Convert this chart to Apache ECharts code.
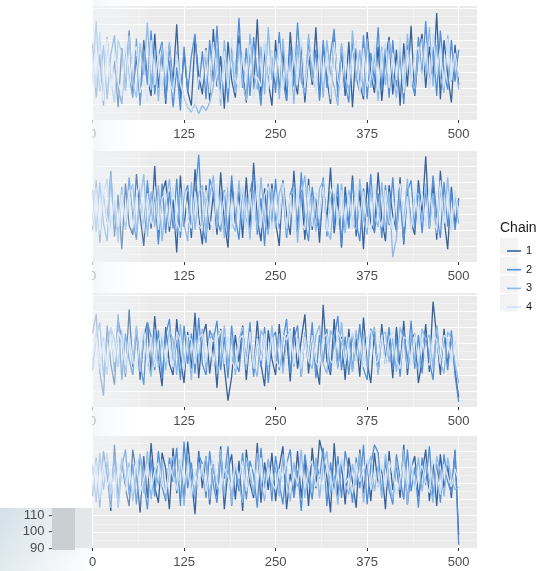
<!DOCTYPE html>
<html>
<head>
<meta charset="utf-8">
<style>
  html, body { margin: 0; padding: 0; background: #ffffff; }
  #chart { width: 555px; height: 571px; }
</style>
<script src="https://cdn.jsdelivr.net/npm/echarts@6.0.0/dist/echarts.min.js"></script>
</head>
<body>
<div id="chart"></div>
<script>
// MCMC trace plots: four parameters, four chains, 500 iterations (every 5th draw kept)
const STEP = 5;
const chainNames = ['1', '2', '3', '4'];
const chainColors = ['#36619a', '#4f8fdc', '#8ab9ea', '#d2e3f5'];
const xTicks = [0, 125, 250, 375, 500];
const bottomYTicks = [90, 100, 110];

// panel 1
const p1c1 = [48,14,41,9,52,22,37,8,45,19, 56,17,40,12,50,26,15,54,20,44, 10,47,23,60,13,42,18,9,51,28,
  16,45,12,57,21,40,7,49,25,14, 53,30,11,46,19,63,15,42,24,9, 50,18,44,12,55,27,16,48,11,41,
  22,58,14,47,26,10,53,19,43,15, 49,8,45,23,13,55,29,17,46,12, 38,52,16,44,9,48,21,59,15,42,
  54,20,46,25,67,13,50,28,11,47, 22];
const p1c2 = [24,62,18,47,13,41,53,20,10,45, 27,14,51,9,43,22,56,16,40,49, 12,37,8,33,6,46,17,40,54,19,
  43,13,50,24,59,17,42,11,47,26, 64,20,45,15,52,28,9,48,22,43, 17,55,25,12,46,21,61,27,15,51,
  24,44,12,50,20,41,57,14,46,22, 11,49,27,17,53,13,42,24,58,19, 45,14,50,21,41,10,47,25,16,52,
  27,62,22,46,15,56,30,19,50,24, 44];
const p1c3 = [40,20,55,16,46,25,11,50,42,18, 53,23,14,48,28,61,19,44,12,47, 21,49,17,43,25,14,8,5,10,4,
  9,6,11,21,45,9,50,23,42,17, 48,24,12,54,29,19,46,16,58,25, 43,13,51,21,40,10,47,24,17,54,
  26,19,45,14,50,29,21,9,48,27, 18,56,24,44,15,51,20,42,12,46, 22,50,28,14,45,20,54,26,19,43,
  51,30,58,21,47,27,17,53,24,41, 19];
const p1c4 = [22,46,26,12,51,19,43,24,15,49, 20,41,46,17,25,11,50,22,42,18, 46,25,17,41,22,15,9,6,8,27,
  23,44,17,49,25,13,43,20,51,26, 19,42,24,47,14,27,21,50,18,44, 25,48,19,41,15,45,22,52,20,40,
  44,17,47,24,42,13,49,25,19,43, 22,41,50,16,45,21,27,47,18,42, 48,20,42,25,52,17,44,22,41,46,
  24,49,19,54,28,45,21,51,25,42, 27];

// panel 2
const p2c1 = [20,51,12,45,25,57,16,42,8,49, 23,17,55,29,10,47,21,60,14,43, 51,19,39,6,54,22,44,15,58,28,
  11,48,20,43,17,56,25,9,50,24, 44,15,53,21,62,27,13,46,19,49, 25,10,51,29,17,57,22,45,14,52,
  20,43,12,48,26,59,18,41,9,47, 22,54,16,45,8,50,24,19,56,27, 13,48,29,20,53,11,46,25,17,51,
  30,66,21,49,14,57,27,8,47,23, 40];
const p2c2 = [45,19,50,24,13,54,28,18,47,22, 53,27,14,46,20,51,23,43,11,49, 18,44,21,52,15,42,48,19,40,67,
  23,12,52,43,26,19,45,16,54,28, 14,47,22,43,55,17,40,10,49,23, 52,21,46,15,42,50,19,56,25,13,
  47,27,20,53,16,44,22,49,11,42, 21,51,25,13,46,28,55,18,43,15, 48,23,53,19,40,12,44,51,21,47,
  18,45,24,54,29,15,50,22,44,20, 39];
const p2c3 = [27,47,17,43,52,21,39,12,45,20, 42,49,19,38,55,16,44,22,48,13, 37,52,28,18,46,24,13,50,20,43,
  48,17,40,54,21,44,15,47,25,19, 51,23,42,14,45,20,53,26,17,46, 21,43,50,18,39,47,12,42,54,22,
  41,19,46,51,21,14,43,23,49,18, 45,24,20,52,27,17,47,28,22,50, 19,44,3,15,47,24,52,20,40,43,
  25,49,21,43,18,46,27,53,20,42, 24];
const p2c4 = [23,43,20,48,27,17,46,22,42,25, 45,21,41,50,18,43,24,47,20,40, 43,22,47,25,19,49,27,21,44,23,
  20,45,26,18,48,23,42,50,21,44, 27,48,19,44,23,51,21,42,47,18, 44,24,49,21,42,17,46,25,20,48,
  22,44,27,47,19,42,50,23,45,26, 42,21,48,27,44,23,19,49,28,22, 45,26,20,43,49,22,41,18,46,24,
  43,22,47,27,20,51,24,44,19,45, 30];

// panel 3
const p3c1 = [46,58,22,7,51,27,14,54,43,19, 61,25,48,17,44,53,22,57,29,13, 50,27,20,55,30,15,47,24,59,18,
  44,52,21,41,12,49,25,4,19,45, 28,51,17,43,22,54,27,13,48,30, 20,52,26,45,16,50,24,42,58,21,
  46,27,14,64,29,20,55,25,44,17, 49,23,43,19,56,28,15,47,22,52, 27,44,18,50,25,54,20,42,46,15,
  29,52,22,66,44,20,49,26,45,23, 6];
const p3c2 = [23,44,53,19,41,49,22,58,17,46, 30,20,50,27,14,53,44,23,48,18, 45,55,24,42,17,51,27,46,21,56,
  27,20,48,42,54,23,44,18,51,28, 22,46,29,53,19,44,25,50,15,43, 47,23,42,55,21,43,51,19,46,27,
  53,18,45,28,49,22,42,57,23,44, 20,46,29,52,24,17,49,43,22,47, 30,50,23,44,19,48,28,54,24,45,
  21,46,29,17,51,27,45,23,48,20, 3];
const p3c3 = [29,47,24,44,20,50,42,25,48,21, 43,27,51,22,46,29,19,49,25,44, 23,48,42,20,52,27,45,17,47,29,
  49,24,43,46,21,29,51,26,44,20, 42,50,23,45,27,19,48,43,25,51, 28,46,21,43,49,25,44,19,47,29,
  24,45,51,27,21,48,42,24,53,28, 44,22,48,29,46,25,42,50,20,45, 47,28,43,22,50,42,24,46,29,23,
  49,42,45,24,51,28,21,47,43,27, 15];
const p3c4 = [31,44,27,41,25,46,28,47,42,26, 45,29,24,43,48,27,44,25,42,46, 28,44,25,47,41,23,45,42,27,43,
  46,28,43,25,42,48,27,44,29,24, 42,45,27,47,24,43,29,46,26,44, 29,25,45,42,48,27,43,24,44,28,
  45,28,25,43,46,29,26,47,42,27, 42,46,28,44,25,43,48,27,29,45, 27,43,47,29,24,44,42,26,46,28,
  44,29,26,46,42,27,45,43,28,42, 25];

// panel 4
const p4c1 = [122,146,115,150,135,113,154,120,144,127, 116,151,136,112,147,121,155,128,118,149,
  139,114,152,124,145,119,156,133,111,150, 127,147,117,142,122,153,114,138,148,120,
  144,113,151,130,121,155,118,143,126,149, 119,140,153,114,136,123,150,121,145,116,
  152,127,157,147,134,112,155,122,142,117, 146,131,115,151,124,143,119,149,128,140,
  114,150,126,142,121,154,117,139,147,122, 136,151,119,144,116,148,127,141,121,150, 98];
const p4c2 = [141,118,149,126,144,121,147,115,140,151, 123,142,117,148,131,114,145,122,150,128,
  119,146,131,152,116,156,127,143,120,148, 142,121,150,129,118,146,133,153,116,140,
  125,149,120,144,135,115,152,127,145,119, 147,130,117,142,151,121,138,113,148,132,
  120,145,133,152,116,143,125,147,121,150, 138,118,146,127,154,117,141,154,149,123,
  144,126,117,148,133,120,151,125,140,115, 146,129,153,121,142,118,148,131,124,151, 92];
const p4c3 = [127,144,120,138,149,123,141,116,146,131, 143,119,137,148,124,150,120,140,129,145,
  121,139,147,125,142,116,148,131,122,143, 134,147,120,141,126,151,122,144,117,142,
  130,118,146,137,123,149,131,119,145,127, 140,122,148,132,119,143,128,151,121,139,
  126,146,121,140,150,124,135,117,145,130, 123,142,129,149,118,139,147,125,141,121,
  148,131,120,144,126,151,117,142,128,146, 125,143,132,118,147,137,122,146,133,126, 128];
const p4c4 = [129,141,124,143,128,137,121,142,135,125, 140,127,145,123,133,142,126,138,143,129,
  124,142,134,126,145,130,139,122,137,128, 142,125,136,145,131,124,140,134,127,143,
  133,144,125,137,142,128,146,123,140,131, 126,139,133,144,124,137,130,142,127,139,
  144,128,136,125,142,134,123,139,146,130, 134,124,143,131,138,145,126,137,128,142,
  127,144,136,123,133,142,129,146,125,136, 141,131,124,145,136,123,142,134,128,139, 131];

const panels = [
  { chains: [p1c1, p1c2, p1c3, p1c4], yMin: 0, yMax: 72 },
  { chains: [p2c1, p2c2, p2c3, p2c4], yMin: 0, yMax: 70 },
  { chains: [p3c1, p3c2, p3c3, p3c4], yMin: 0, yMax: 72 },
  { chains: [p4c1, p4c2, p4c3, p4c4], yMin: 90, yMax: 160 }
];

const FONT = "'Liberation Sans', Arial, sans-serif";
const PANEL_BG = '#ebebeb';
const gridBoxes = [
  { top: 5, height: 115 },
  { top: 150, height: 112 },
  { top: 292, height: 115 },
  { top: 435, height: 113 }
];

const grids = [], xAxes = [], yAxes = [], series = [];
panels.forEach((p, k) => {
  grids.push({
    left: 92.5, width: 384.5, top: gridBoxes[k].top, height: gridBoxes[k].height,
    show: true, backgroundColor: PANEL_BG, borderWidth: 0
  });
  xAxes.push({
    type: 'value', gridIndex: k, min: 0, max: 525, interval: 125,
    axisLine: { show: false },
    axisTick: { show: true, length: 3, customValues: xTicks, lineStyle: { color: '#333333', width: 1 } },
    axisLabel: { show: true, color: '#4d4d4d', fontSize: 13, fontFamily: FONT, margin: 8,
      customValues: xTicks },
    splitLine: { show: true, lineStyle: { color: '#ffffff', width: 1 } },
    minorTick: { show: false, splitNumber: 2 },
    minorSplitLine: { show: true, lineStyle: { color: '#f6f6f6', width: 0.6 } }
  });
  const isBottom = k === panels.length - 1;
  yAxes.push({
    type: 'value', gridIndex: k, min: p.yMin, max: p.yMax, interval: 10,
    axisLine: { show: false },
    axisTick: { show: false },
    axisLabel: isBottom
      ? { show: true, color: '#4d4d4d', fontSize: 13, fontFamily: FONT, margin: 40,
          formatter: v => (bottomYTicks.indexOf(v) >= 0 ? v + ' -' : '') }
      : { show: false },
    splitLine: { show: true, lineStyle: { color: '#ffffff', width: 1 } },
    minorTick: { show: false, splitNumber: 2 },
    minorSplitLine: { show: true, lineStyle: { color: '#f6f6f6', width: 0.6 } }
  });
  p.chains.forEach((vals, c) => {
    series.push({
      type: 'line', name: chainNames[c], xAxisIndex: k, yAxisIndex: k,
      data: vals.map((v, i) => [i * STEP, v]),
      showSymbol: false, symbol: 'none', silent: true,
      lineStyle: { color: chainColors[c], width: 1.3 },
      itemStyle: { color: chainColors[c] },
      z: 2 + c
    });
  });
});

// legend key backgrounds
const keyBoxes = chainNames.map((n, i) => ({
  type: 'rect', left: 500, top: 238 + i * 18.7, z: -1,
  shape: { width: 18, height: 17.5 },
  style: { fill: '#f3f3f3' }
}));

const chart = echarts.init(document.getElementById('chart'), null, { renderer: 'canvas' });
chart.setOption({
  animation: false,
  backgroundColor: '#ffffff',
  grid: grids,
  xAxis: xAxes,
  yAxis: yAxes,
  series: series,
  legend: {
    data: chainNames.map(n => ({ name: n, icon: 'rect' })),
    orient: 'vertical', left: 502, top: 239,
    itemWidth: 14, itemHeight: 1.6, itemGap: 4.7,
    selectedMode: false,
    textStyle: { color: '#1a1a1a', fontSize: 11, fontFamily: FONT, lineHeight: 14 }
  },
  graphic: [
    // legend title
    { type: 'text', left: 500, top: 221, z: 10,
      style: { text: 'Chain', fill: '#1a1a1a', font: "14px 'Liberation Sans', Arial, sans-serif" } },
    ...keyBoxes,
    // lower-left axis strip
    { type: 'rect', left: 0, top: 508, z: -2, shape: { width: 92.5, height: 63 },
      style: { fill: new echarts.graphic.LinearGradient(0, 0, 1, 1, [
        { offset: 0, color: '#d2e0e8' }, { offset: 0.6, color: '#eef3f6' }, { offset: 1, color: '#ffffff' }]) } },
    { type: 'rect', left: 75, top: 508, z: -1, shape: { width: 17.5, height: 40 },
      style: { fill: '#e4e7e8' } },
    { type: 'rect', left: 52, top: 508, z: -1, shape: { width: 23, height: 42 },
      style: { fill: '#c9cfd2' } },
    // fade over the left edge of the panels
    { type: 'rect', left: 92.5, top: 0, z: 90, silent: true, shape: { width: 60, height: 508 },
      style: { fill: new echarts.graphic.LinearGradient(0, 0, 1, 0, [
        { offset: 0, color: 'rgba(238,244,248,0.7)' }, { offset: 1, color: 'rgba(255,255,255,0)' }]) } },
    // blank margin on the left
    { type: 'rect', left: 0, top: 0, z: 100, silent: true, shape: { width: 92.5, height: 508 },
      style: { fill: '#ffffff' } }
  ]
});
</script>
</body>
</html>
